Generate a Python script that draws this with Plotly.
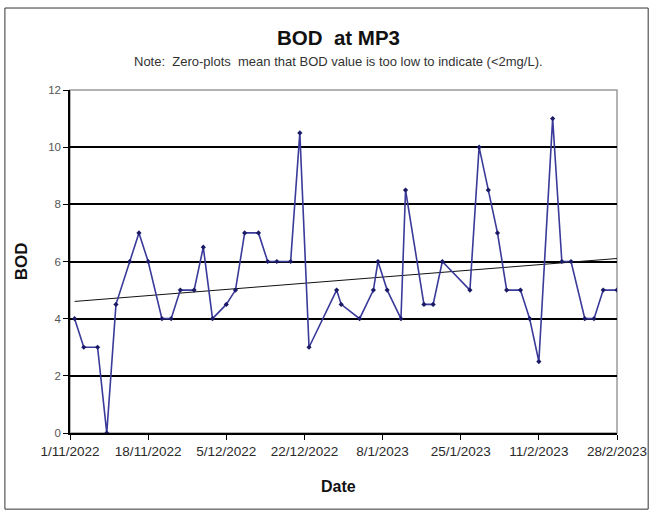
import numpy as np
import pandas as pd
import plotly.graph_objects as go

dates = ["2022-11-02", "2022-11-04", "2022-11-07", "2022-11-09", "2022-11-11", "2022-11-14",
         "2022-11-16", "2022-11-18", "2022-11-21", "2022-11-23", "2022-11-25", "2022-11-28",
         "2022-11-30", "2022-12-02", "2022-12-05", "2022-12-07", "2022-12-09", "2022-12-12",
         "2022-12-14", "2022-12-16", "2022-12-19", "2022-12-21", "2022-12-23", "2022-12-29",
         "2022-12-30", "2023-01-03", "2023-01-06", "2023-01-07", "2023-01-09", "2023-01-12",
         "2023-01-13", "2023-01-17", "2023-01-19", "2023-01-21", "2023-01-27", "2023-01-29",
         "2023-01-31", "2023-02-02", "2023-02-04", "2023-02-07", "2023-02-09", "2023-02-11",
         "2023-02-14", "2023-02-16", "2023-02-18", "2023-02-21", "2023-02-23", "2023-02-25",
         "2023-02-28"]
bod = [4, 3, 3, 0, 4.5, 6, 7, 6, 4, 4, 5, 5, 6.5, 4, 4.5, 5, 7, 7, 6, 6, 6, 10.5, 3, 5, 4.5,
       4, 5, 6, 5, 4, 8.5, 4.5, 4.5, 6, 5, 10, 8.5, 7, 5, 5, 4, 2.5, 11, 6, 6, 4, 4, 5, 5]

title = "BOD  at MP3"
subtitle = "Note:  Zero-plots  mean that BOD value is too low to indicate (<2mg/L)."
x_title = "Date"
y_title = "BOD"

# linear trend (Excel-style trendline)
dt = pd.to_datetime(dates)
days = (dt - dt[0]).days.values.astype(float)
slope, intercept = np.polyfit(days, bod, 1)
trend_x = [dates[0], dates[-1]]
trend_y = [intercept, intercept + slope * days[-1]]

FONT = "Liberation Sans, Arial, sans-serif"

fig = go.Figure()
fig.add_trace(go.Scatter(x=trend_x, y=trend_y, mode="lines",
                         line=dict(color="#111111", width=1), hoverinfo="skip",
                         showlegend=False))
fig.add_trace(go.Scatter(x=dates, y=bod, mode="lines+markers",
                         line=dict(color="#3a3a9a", width=1.6),
                         marker=dict(color="#1a1a66", size=4, symbol="diamond"),
                         showlegend=False))

fig.update_layout(
    width=659, height=511,
    margin=dict(l=70, r=42, t=90, b=78),
    paper_bgcolor="white", plot_bgcolor="white",
    font=dict(family=FONT, color="#222222"),
    xaxis=dict(type="date", range=["2022-11-01", "2023-02-28"],
               tick0="2022-11-01", dtick=17 * 86400000, tickformat="%-d/%-m/%Y",
               showgrid=False, zeroline=False, showline=True, linecolor="black", linewidth=1.5,
               ticks="outside", ticklen=5, tickcolor="black", tickwidth=1.2,
               tickfont=dict(size=13.5, family=FONT, color="#2a2a2a")),
    yaxis=dict(range=[0, 12], dtick=2, showgrid=True, gridcolor="black", gridwidth=1.5,
               zeroline=False, showline=True, linecolor="black", linewidth=1.5,
               ticks="outside", ticklen=5, tickcolor="black", tickwidth=1.2,
               tickfont=dict(size=11.5, family=FONT, color="#555")),
    shapes=[
        dict(type="rect", xref="paper", yref="paper", x0=0, x1=1, y0=0, y1=1,
             line=dict(color="#9a9a9a", width=1.5), layer="below"),
        dict(type="rect", xref="paper", yref="paper", x0=-0.119, x1=1.057, y0=-0.222, y1=1.239,
             line=dict(color="#333333", width=1)),
    ],
    annotations=[
        dict(text=f"<b>{title}</b>", xref="paper", yref="paper", x=0.49, y=1.152,
             xanchor="center", yanchor="middle",
             showarrow=False, font=dict(size=20.5, family=FONT, color="#111")),
        dict(text=subtitle, xref="paper", yref="paper", x=0.49, y=1.082,
             xanchor="center", yanchor="middle",
             showarrow=False, font=dict(size=13, family=FONT, color="#333")),
        dict(text=f"<b>{x_title}</b>", xref="paper", yref="paper", x=0.49, y=-0.157,
             xanchor="center", yanchor="middle",
             showarrow=False, font=dict(size=16, family=FONT, color="#111")),
        dict(text=f"<b>{y_title}</b>", xref="paper", yref="paper", x=-0.088, y=0.5,
             xanchor="center", yanchor="middle",
             showarrow=False, textangle=-90, font=dict(size=17, family=FONT, color="#111")),
    ],
)

fig.write_html("out.html", config={"displayModeBar": False},
               post_script="document.body.style.margin='0';")
